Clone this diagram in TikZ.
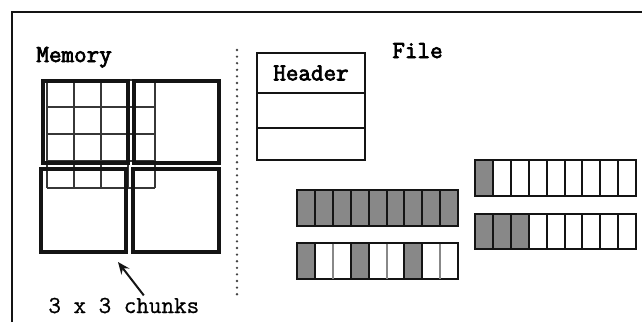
\documentclass[tikz,border=0pt]{standalone}
\usepackage{fontspec}
\newfontfamily\heavymono{Latin Modern Mono}[FakeBold=3]
\newfontfamily\plainmono{Latin Modern Mono}[FakeBold=0.8]
\usepackage{tikz}
\usetikzlibrary{arrows.meta, positioning}
\definecolor{chunkgray}{RGB}{136, 136, 136}
\definecolor{inkblack}{RGB}{20, 20, 20}
\tikzset{
  tag/.style={font=\heavymono\fontsize{12.2}{14}\selectfont, inner sep=0pt},
  chunkbox/.style={draw=inkblack, line width=1.6pt},
  gridline/.style={draw=inkblack!85, line width=0.6pt},
  slotbox/.style={rectangle, draw=inkblack, line width=0.8pt, outer sep=0pt,
              minimum width=54pt, font=\heavymono\fontsize{12.2}{14}\selectfont},
  cell/.style={draw=inkblack, line width=1pt},
  arrow/.style={-{Stealth[length=6pt, width=5pt]}, line width=1pt, color=inkblack},
}

\begin{document}
\begin{tikzpicture}[x=0.5pt, y=-0.5pt]
  \useasboundingbox (0,0) rectangle (642,322);
  % frame
  \draw[inkblack, line width=0.9pt] (12,322) -- (12,12) -- (642,12);

  % memory side
  \node[tag, anchor=base west] (memory) at (36,62) {Memory};
  \foreach \c in {0,...,4}
    \draw[gridline] ({47+27*\c},80) -- ({47+27*\c},188);
  \foreach \r in {0,...,4}
    \draw[gridline] (47,{80+27*\r}) -- (155,{80+27*\r});
  \draw[chunkbox] (43,81) rectangle (128,163);
  \draw[chunkbox] (134,81) rectangle (219,163);
  \draw[chunkbox] (41,169) rectangle (126,252);
  \draw[chunkbox] (133,169) rectangle (219,252);

  \node[tag, font=\plainmono\fontsize{12.2}{14}\selectfont, anchor=base west] (chunks) at (48,313) {3 x 3 chunks};
  \coordinate (chunkpt) at (118,262);
  \draw[arrow] ([xshift=10pt, yshift=1pt]chunks.north) -- (chunkpt);

  % separator
  \draw[inkblack!80, line width=1.3pt, line cap=round, dash pattern=on 0pt off 3.3pt] (237,50) -- (237,297);

  % file side
  \node[tag, anchor=base west] (file) at (392,58) {File};
  \node[slotbox, minimum height=20pt] (hdr) at (311,73) {Header};
  \node[slotbox, minimum height=17.5pt, below=0pt of hdr] (slot1) {};
  \node[slotbox, minimum height=16pt, below=0pt of slot1] (slot2) {};

  % strips
  \foreach \i in {0,...,8}
    \draw[cell, fill=chunkgray] ({297+\i*17.9},190) rectangle ++(17.9,36);
  \foreach \i in {0,...,8} {
    \ifnum\numexpr\i-3*(\i/3)\relax=0
      \draw[cell, fill=chunkgray] ({297+\i*17.9},243) rectangle ++(17.9,36);
    \else
      \draw[cell, fill=white] ({297+\i*17.9},243) rectangle ++(17.9,36);
    \fi
  }
  \foreach \i in {2,5,8}
    \draw[line width=1pt, chunkgray] ({297+\i*17.9},243.5) -- ({297+\i*17.9},278.5);
  \foreach \i in {0,...,8} {
    \ifnum\i=0
      \draw[cell, fill=chunkgray] ({475+\i*17.9},160) rectangle ++(17.9,36);
    \else
      \draw[cell, fill=white] ({475+\i*17.9},160) rectangle ++(17.9,36);
    \fi
  }
  \foreach \i in {0,...,8} {
    \ifnum\i<3
      \draw[cell, fill=chunkgray] ({475+\i*17.9},214) rectangle ++(17.9,35);
    \else
      \draw[cell, fill=white] ({475+\i*17.9},214) rectangle ++(17.9,35);
    \fi
  }
\end{tikzpicture}
\end{document}
